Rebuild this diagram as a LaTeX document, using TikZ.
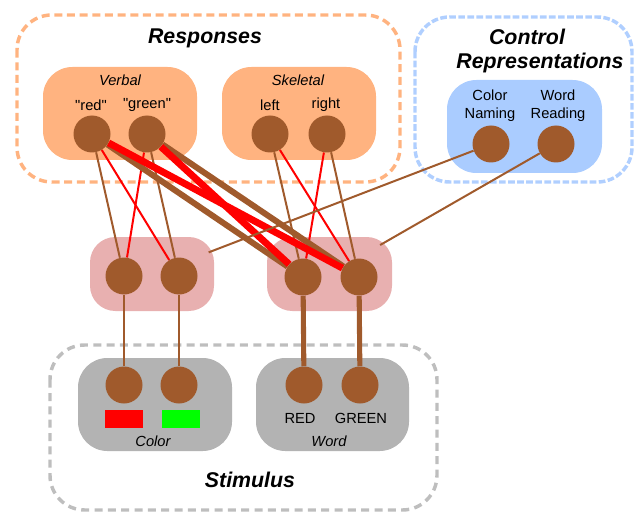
\documentclass[tikz,border=0pt]{standalone}
\usepackage{fontspec}
\setmainfont{Liberation Sans}
\newfontfamily\qfont{Liberation Sans}
\definecolor{brn}{HTML}{A05A2C}
\definecolor{orng}{HTML}{FFB380}
\definecolor{blu}{HTML}{AACCFF}
\definecolor{bludash}{HTML}{B0CFFF}
\definecolor{pnk}{HTML}{E8B0B0}
\definecolor{gry}{HTML}{B3B3B3}
\definecolor{grydash}{HTML}{BEBEBE}
\pgfdeclarelayer{boxes}
\pgfdeclarelayer{links}
\pgfsetlayers{boxes,links,main}
\tikzset{
  unit/.style={circle,fill=brn,minimum size=27.75pt,inner sep=0pt},
  grp/.style={rectangle,rounded corners=22pt,inner sep=0pt},
  outer/.style={line width=2.6pt,rounded corners=26pt},
  thinB/.style={draw=brn,line width=1.5pt},
  thinR/.style={draw=red,line width=1.5pt},
  thickB/.style={draw=brn,line width=4.5pt},
  thickR/.style={draw=red,line width=5.2pt},
  stimW/.style={draw=brn,line width=3.8pt},
  ttl/.style={font=\fontsize{16}{18}\selectfont\bfseries\itshape,inner sep=0pt},
  lbl/.style={font=\fontsize{11}{13.5}\selectfont,inner sep=0pt,align=center},
  qlbl/.style={font=\fontsize{11}{13.5}\selectfont\qfont,inner sep=0pt,align=center},
  ilbl/.style={font=\fontsize{11}{13}\selectfont\itshape,inner sep=0pt},
}
\begin{document}
\begin{tikzpicture}[x=0.75pt,y=-0.75pt]
\useasboundingbox (0,0) rectangle (634,513);
\begin{pgfonlayer}{boxes}
% outer dashed groups
\draw[outer,orng,dash pattern=on 6pt off 3.5pt] (17,15) rectangle (400,182);
\draw[outer,bludash,dash pattern=on 5pt off 1.8pt] (415,17) rectangle (632,182);
\draw[outer,grydash,dash pattern=on 6pt off 4pt] (50,345) rectangle (437,510);
% inner groups
\node[grp,fill=orng,minimum width=115.5pt,minimum height=69.75pt] (verbal) at (120,113.5) {};
\node[grp,fill=orng,minimum width=115.5pt,minimum height=69.75pt] (skeletal) at (299,113.5) {};
\node[grp,fill=blu,minimum width=116.25pt,minimum height=69.75pt] (ctrl) at (524.5,126.5) {};
\node[grp,fill=pnk,rounded corners=19pt,minimum width=93pt,minimum height=55.5pt] (lp) at (152,274) {};
\node[grp,fill=pnk,rounded corners=19pt,minimum width=93.75pt,minimum height=55.5pt] (rp) at (329.5,274) {};
\node[grp,fill=gry,minimum width=115.5pt,minimum height=69.75pt] (colorg) at (155,404.5) {};
\node[grp,fill=gry,minimum width=114.75pt,minimum height=69.75pt] (wordg) at (332.5,404.5) {};
\end{pgfonlayer}
% titles and labels
\node[ttl] (tresp) at (205,38) {Responses};
\node[ttl] (tctrl) at (527,37) {Control};
\node[ttl] (trep) at (540,63) {Representations};
\node[ttl] (tstim) at (250,480) {Stimulus};
\node[ilbl] (lverbal) at (120,80) {Verbal};
\node[ilbl] (lskel) at (298,80) {Skeletal};
\node[qlbl] (lred) at (91,105) {"red"};
\node[qlbl] (lgreen) at (147,105) {"green"};
\node[lbl] (lleft) at (270,105) {left};
\node[lbl] (lright) at (326,105) {right};
\node[lbl] (lcn) at (490,106) {Color\\Naming};
\node[lbl] (lwr) at (558,106) {Word\\Reading};
\node[lbl] (lRED) at (300,418) {RED};
\node[lbl] (lGREEN) at (361,418) {GREEN};
\node[ilbl] (lcolor) at (153,441) {Color};
\node[ilbl] (lword) at (329,441) {Word};
\node[fill=red,minimum width=28.5pt,minimum height=13.5pt,inner sep=0pt] (sqr) at (124,419) {};
\node[fill=green,minimum width=28.5pt,minimum height=13.5pt,inner sep=0pt] (sqg) at (181,419) {};
% units
\node[unit] (r) at (92,134) {};
\node[unit] (g) at (147,134) {};
\node[unit] (l) at (270,134) {};
\node[unit] (ri) at (327,134) {};
\node[unit] (cn) at (491,144) {};
\node[unit] (wr) at (556,144) {};
\node[unit] (c1) at (124,276) {};
\node[unit] (c2) at (179,276) {};
\node[unit] (w1) at (303,277) {};
\node[unit] (w2) at (359,277) {};
\node[unit] (s1) at (124,385) {};
\node[unit] (s2) at (179,385) {};
\node[unit] (s3) at (304,385) {};
\node[unit] (s4) at (360,385) {};
% connections
\begin{pgfonlayer}{links}
\draw[thinB] (c1) -- (r);
\draw[thinR] (c1) -- (g);
\draw[thinR] (c2) -- (r);
\draw[thinB] (c2) -- (g);
\draw[thinB] (l) -- (w1);
\draw[thinR] (l) -- (w2);
\draw[thinR] (ri) -- (w1);
\draw[thinB] (ri) -- (w2);
\draw[thickB] (r) -- (w1);
\draw[thickB] (g) -- (w2);
\draw[thickR] (r) -- (w2);
\draw[thickR] (g) -- (w1);
\draw[thinB,shorten >=-4.5pt] (cn) -- (lp);
\draw[thinB,shorten >=-10.5pt] (wr) -- (rp);
\draw[thinB] (s1) -- (c1);
\draw[thinB] (s2) -- (c2);
\draw[stimW] (s3) -- (w1);
\draw[stimW] (s4) -- (w2);
\end{pgfonlayer}
\end{tikzpicture}
\end{document}
